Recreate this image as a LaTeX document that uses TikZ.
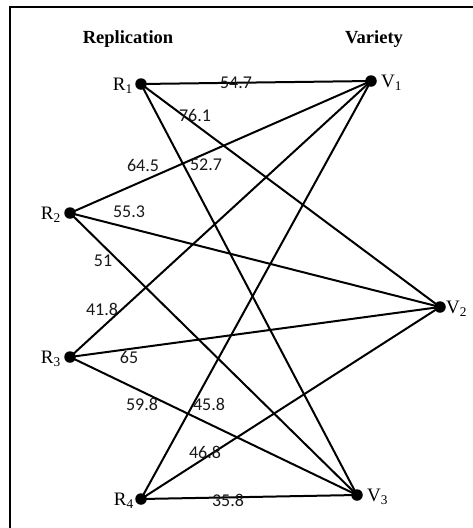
\documentclass[tikz,border=0pt]{standalone}
\usepackage{fontspec}
\setmainfont{Liberation Serif}
\newfontfamily\numfont{Carlito}
\begin{document}
\begin{tikzpicture}[x=1pt,y=-1pt,
  dot/.style={circle,fill=black,inner sep=0pt,minimum size=11.5pt},
  edge/.style={line width=2pt,black},
  wlabel/.style={font=\numfont\fontsize{18}{20}\selectfont,inner sep=0pt,text=black!90},
  vname/.style={font=\fontsize{19}{21}\selectfont,inner sep=0pt},
  title/.style={font=\bfseries\fontsize{18.5}{21}\selectfont,inner sep=0pt}]
\useasboundingbox (0,0) rectangle (473,528);
\draw[line width=2.8pt,black] (473,7) -- (10,7) -- (10,528);
\node[title] (tR) at (128,39) {Replication};
\node[title] (tV) at (374,39) {Variety};
\node[dot] (R1) at (141,84) {};
\node[dot] (R2) at (70,213) {};
\node[dot] (R3) at (70,357) {};
\node[dot] (R4) at (141,499) {};
\node[dot] (V1) at (371,81) {};
\node[dot] (V2) at (440,307) {};
\node[dot] (V3) at (357,495) {};
\node[vname,anchor=east] (lR1) at (133,86) {R\textsubscript{1}};
\node[vname,anchor=east] (lR2) at (61,215) {R\textsubscript{2}};
\node[vname,anchor=east] (lR3) at (61,359) {R\textsubscript{3}};
\node[vname,anchor=east] (lR4) at (134,501) {R\textsubscript{4}};
\node[vname,anchor=west] (lV1) at (381,83) {V\textsubscript{1}};
\node[vname,anchor=west] (lV2) at (446,309) {V\textsubscript{2}};
\node[vname,anchor=west] (lV3) at (367,497) {V\textsubscript{3}};
\foreach \r in {R1,R2,R3,R4}{
  \foreach \v in {V1,V2,V3}{
    \draw[edge] (\r.center) -- (\v.center);
  }
}
\node[wlabel] (w11) at (236,83) {54.7};
\node[wlabel] (w12) at (195,115) {76.1};
\node[wlabel] (w21) at (143,165) {64.5};
\node[wlabel] (w13) at (206,165) {52.7};
\node[wlabel] (w22) at (129,212) {55.3};
\node[wlabel] (w23) at (103,261) {51};
\node[wlabel] (w31) at (102,309) {41.8};
\node[wlabel] (w32) at (129,357) {65};
\node[wlabel] (w33) at (142,404) {59.8};
\node[wlabel] (w41) at (209,404) {45.8};
\node[wlabel] (w42) at (205,452) {46.8};
\node[wlabel] (w43) at (228,500) {35.8};
\end{tikzpicture}
\end{document}
